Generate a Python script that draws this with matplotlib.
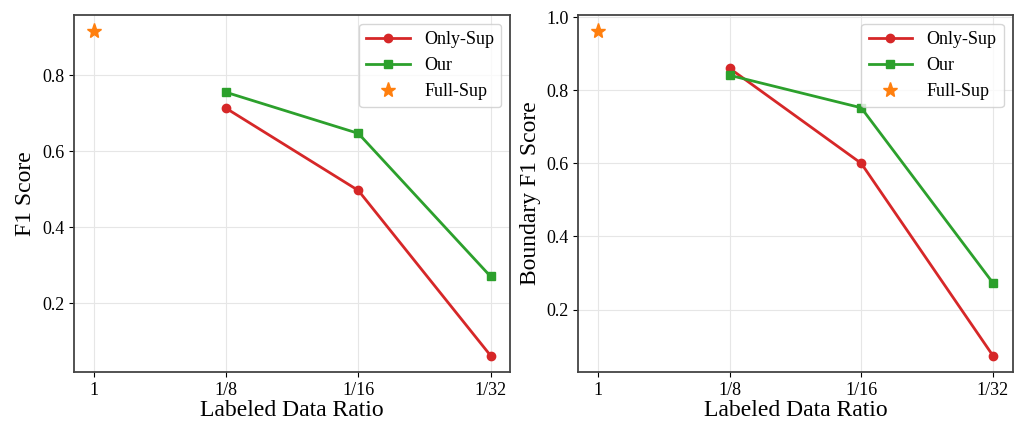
import matplotlib.pyplot as plt

plt.rcParams['font.family'] = ['Liberation Serif', 'DejaVu Serif']

ratios = ['1', '1/8', '1/16', '1/32']

# F1 score
f1_full_sup = 0.916
f1_only_sup = [0.713, 0.497, 0.063]
f1_our = [0.755, 0.647, 0.271]

# Boundary F1 score
bf1_full_sup = 0.962
bf1_only_sup = [0.860, 0.600, 0.074]
bf1_our = [0.841, 0.752, 0.273]

fig = plt.figure(figsize=(10.27, 4.23), dpi=100)
ax1 = fig.add_axes([0.072, 0.121, 0.425, 0.844])
ax2 = fig.add_axes([0.563, 0.121, 0.423, 0.844])

panels = [
    (ax1, f1_full_sup, f1_only_sup, f1_our, 'F1 Score'),
    (ax2, bf1_full_sup, bf1_only_sup, bf1_our, 'Boundary F1 Score'),
]

for ax, full, only, our, ylabel in panels:
    x = list(range(len(ratios)))
    ax.plot(x[1:], only, color='#d62728', marker='o', markersize=6, linewidth=2, label='Only-Sup')
    ax.plot(x[1:], our, color='#2ca02c', marker='s', markersize=6, linewidth=2, label='Our')
    ax.plot([x[0]], [full], color='#ff7f0e', marker='*', markersize=11, linestyle='none', label='Full-Sup')
    ax.set_xticks(x)
    ax.set_xticklabels(ratios)
    ax.set_xlabel('Labeled Data Ratio', fontsize=17, labelpad=1)
    ax.set_ylabel(ylabel, fontsize=17)
    ax.tick_params(labelsize=13)
    ax.grid(True, color='#e6e6e6', linewidth=0.8)
    for s in ax.spines.values():
        s.set_color('#444444')
        s.set_linewidth(1.3)
    ax.legend(loc='upper right', fontsize=13, handlelength=2.4)

ax1.set_yticks([0.2, 0.4, 0.6, 0.8])
ax2.set_yticks([0.2, 0.4, 0.6, 0.8, 1.0])

plt.savefig('out.png', dpi=100)
